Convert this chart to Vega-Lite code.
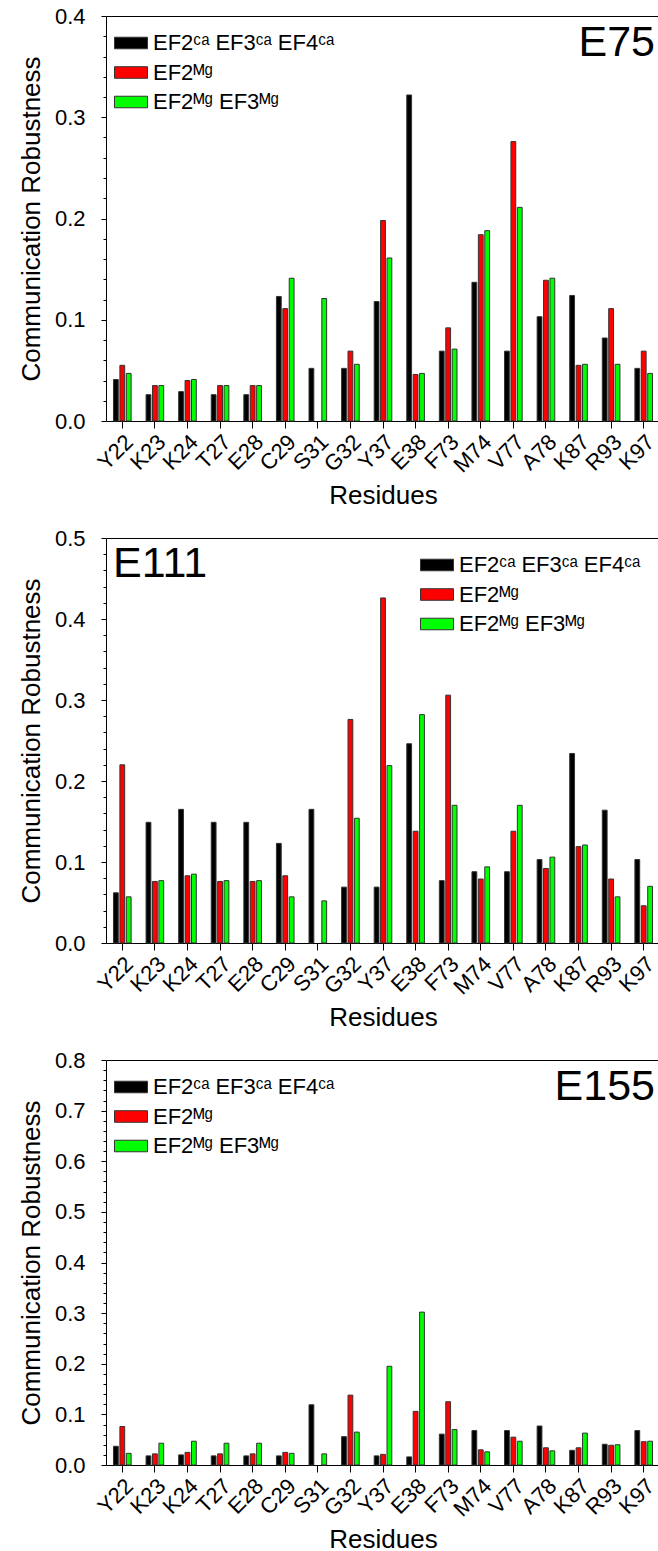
{
  "$schema": "https://vega.github.io/schema/vega-lite/v6.json",
  "background": "white",
  "padding": {"left": 18, "top": 5, "right": 0, "bottom": 0},
  "spacing": 18,
  "config": {
    "font": "Liberation Sans",
    "view": {"stroke": null},
    "axis": {"labelFont": "Liberation Sans", "titleFont": "Liberation Sans", "labelColor": "#000", "titleColor": "#000", "domainColor": "#000", "tickColor": "#000", "labelFontSize": 22, "titleFontSize": 26, "titleFontWeight": "normal", "grid": false},
    "legend": {"labelFont": "Liberation Sans", "labelFontSize": 22, "labelColor": "#000", "symbolType": "M-1,-0.35H1V0.35H-1Z", "symbolSize": 1089, "symbolStrokeColor": "#333", "symbolStrokeWidth": 1, "symbolOpacity": 1, "labelOffset": 5, "rowPadding": 1.5, "padding": 0, "labelLimit": 400, "title": null},
    "title": {"font": "Liberation Sans", "fontSize": 43, "fontWeight": "normal", "color": "#000", "frame": "group", "baseline": "alphabetic"}
  },
  "resolve": {"scale": {"y": "independent", "color": "independent", "x": "independent"}, "legend": {"color": "independent"}},
  "datasets": {
    "d": [
      {"p":"E75","r":"Y22","s":"a","v":0.041},{"p":"E75","r":"Y22","s":"b","v":0.055},{"p":"E75","r":"Y22","s":"c","v":0.047},
      {"p":"E75","r":"K23","s":"a","v":0.026},{"p":"E75","r":"K23","s":"b","v":0.035},{"p":"E75","r":"K23","s":"c","v":0.035},
      {"p":"E75","r":"K24","s":"a","v":0.029},{"p":"E75","r":"K24","s":"b","v":0.040},{"p":"E75","r":"K24","s":"c","v":0.041},
      {"p":"E75","r":"T27","s":"a","v":0.026},{"p":"E75","r":"T27","s":"b","v":0.035},{"p":"E75","r":"T27","s":"c","v":0.035},
      {"p":"E75","r":"E28","s":"a","v":0.026},{"p":"E75","r":"E28","s":"b","v":0.035},{"p":"E75","r":"E28","s":"c","v":0.035},
      {"p":"E75","r":"C29","s":"a","v":0.123},{"p":"E75","r":"C29","s":"b","v":0.111},{"p":"E75","r":"C29","s":"c","v":0.141},
      {"p":"E75","r":"S31","s":"a","v":0.052},{"p":"E75","r":"S31","s":"c","v":0.121},
      {"p":"E75","r":"G32","s":"a","v":0.052},{"p":"E75","r":"G32","s":"b","v":0.069},{"p":"E75","r":"G32","s":"c","v":0.056},
      {"p":"E75","r":"Y37","s":"a","v":0.118},{"p":"E75","r":"Y37","s":"b","v":0.198},{"p":"E75","r":"Y37","s":"c","v":0.161},
      {"p":"E75","r":"E38","s":"a","v":0.322},{"p":"E75","r":"E38","s":"b","v":0.046},{"p":"E75","r":"E38","s":"c","v":0.047},
      {"p":"E75","r":"F73","s":"a","v":0.069},{"p":"E75","r":"F73","s":"b","v":0.092},{"p":"E75","r":"F73","s":"c","v":0.071},
      {"p":"E75","r":"M74","s":"a","v":0.137},{"p":"E75","r":"M74","s":"b","v":0.184},{"p":"E75","r":"M74","s":"c","v":0.188},
      {"p":"E75","r":"V77","s":"a","v":0.069},{"p":"E75","r":"V77","s":"b","v":0.276},{"p":"E75","r":"V77","s":"c","v":0.211},
      {"p":"E75","r":"A78","s":"a","v":0.103},{"p":"E75","r":"A78","s":"b","v":0.139},{"p":"E75","r":"A78","s":"c","v":0.141},
      {"p":"E75","r":"K87","s":"a","v":0.124},{"p":"E75","r":"K87","s":"b","v":0.055},{"p":"E75","r":"K87","s":"c","v":0.056},
      {"p":"E75","r":"R93","s":"a","v":0.082},{"p":"E75","r":"R93","s":"b","v":0.111},{"p":"E75","r":"R93","s":"c","v":0.056},
      {"p":"E75","r":"K97","s":"a","v":0.052},{"p":"E75","r":"K97","s":"b","v":0.069},{"p":"E75","r":"K97","s":"c","v":0.047},

      {"p":"E111","r":"Y22","s":"a","v":0.062},{"p":"E111","r":"Y22","s":"b","v":0.220},{"p":"E111","r":"Y22","s":"c","v":0.057},
      {"p":"E111","r":"K23","s":"a","v":0.149},{"p":"E111","r":"K23","s":"b","v":0.076},{"p":"E111","r":"K23","s":"c","v":0.077},
      {"p":"E111","r":"K24","s":"a","v":0.165},{"p":"E111","r":"K24","s":"b","v":0.083},{"p":"E111","r":"K24","s":"c","v":0.085},
      {"p":"E111","r":"T27","s":"a","v":0.149},{"p":"E111","r":"T27","s":"b","v":0.076},{"p":"E111","r":"T27","s":"c","v":0.077},
      {"p":"E111","r":"E28","s":"a","v":0.149},{"p":"E111","r":"E28","s":"b","v":0.076},{"p":"E111","r":"E28","s":"c","v":0.077},
      {"p":"E111","r":"C29","s":"a","v":0.123},{"p":"E111","r":"C29","s":"b","v":0.083},{"p":"E111","r":"C29","s":"c","v":0.057},
      {"p":"E111","r":"S31","s":"a","v":0.165},{"p":"E111","r":"S31","s":"c","v":0.052},
      {"p":"E111","r":"G32","s":"a","v":0.069},{"p":"E111","r":"G32","s":"b","v":0.276},{"p":"E111","r":"G32","s":"c","v":0.154},
      {"p":"E111","r":"Y37","s":"a","v":0.069},{"p":"E111","r":"Y37","s":"b","v":0.426},{"p":"E111","r":"Y37","s":"c","v":0.219},
      {"p":"E111","r":"E38","s":"a","v":0.246},{"p":"E111","r":"E38","s":"b","v":0.138},{"p":"E111","r":"E38","s":"c","v":0.282},
      {"p":"E111","r":"F73","s":"a","v":0.077},{"p":"E111","r":"F73","s":"b","v":0.306},{"p":"E111","r":"F73","s":"c","v":0.170},
      {"p":"E111","r":"M74","s":"a","v":0.088},{"p":"E111","r":"M74","s":"b","v":0.079},{"p":"E111","r":"M74","s":"c","v":0.094},
      {"p":"E111","r":"V77","s":"a","v":0.088},{"p":"E111","r":"V77","s":"b","v":0.138},{"p":"E111","r":"V77","s":"c","v":0.170},
      {"p":"E111","r":"A78","s":"a","v":0.103},{"p":"E111","r":"A78","s":"b","v":0.092},{"p":"E111","r":"A78","s":"c","v":0.106},
      {"p":"E111","r":"K87","s":"a","v":0.234},{"p":"E111","r":"K87","s":"b","v":0.119},{"p":"E111","r":"K87","s":"c","v":0.121},
      {"p":"E111","r":"R93","s":"a","v":0.164},{"p":"E111","r":"R93","s":"b","v":0.079},{"p":"E111","r":"R93","s":"c","v":0.057},
      {"p":"E111","r":"K97","s":"a","v":0.103},{"p":"E111","r":"K97","s":"b","v":0.046},{"p":"E111","r":"K97","s":"c","v":0.070},

      {"p":"E155","r":"Y22","s":"a","v":0.037},{"p":"E155","r":"Y22","s":"b","v":0.076},{"p":"E155","r":"Y22","s":"c","v":0.023},
      {"p":"E155","r":"K23","s":"a","v":0.018},{"p":"E155","r":"K23","s":"b","v":0.022},{"p":"E155","r":"K23","s":"c","v":0.043},
      {"p":"E155","r":"K24","s":"a","v":0.020},{"p":"E155","r":"K24","s":"b","v":0.025},{"p":"E155","r":"K24","s":"c","v":0.047},
      {"p":"E155","r":"T27","s":"a","v":0.018},{"p":"E155","r":"T27","s":"b","v":0.022},{"p":"E155","r":"T27","s":"c","v":0.043},
      {"p":"E155","r":"E28","s":"a","v":0.018},{"p":"E155","r":"E28","s":"b","v":0.022},{"p":"E155","r":"E28","s":"c","v":0.043},
      {"p":"E155","r":"C29","s":"a","v":0.018},{"p":"E155","r":"C29","s":"b","v":0.025},{"p":"E155","r":"C29","s":"c","v":0.023},
      {"p":"E155","r":"S31","s":"a","v":0.119},{"p":"E155","r":"S31","s":"c","v":0.022},
      {"p":"E155","r":"G32","s":"a","v":0.056},{"p":"E155","r":"G32","s":"b","v":0.138},{"p":"E155","r":"G32","s":"c","v":0.065},
      {"p":"E155","r":"Y37","s":"a","v":0.018},{"p":"E155","r":"Y37","s":"b","v":0.021},{"p":"E155","r":"Y37","s":"c","v":0.195},
      {"p":"E155","r":"E38","s":"a","v":0.016},{"p":"E155","r":"E38","s":"b","v":0.106},{"p":"E155","r":"E38","s":"c","v":0.302},
      {"p":"E155","r":"F73","s":"a","v":0.061},{"p":"E155","r":"F73","s":"b","v":0.125},{"p":"E155","r":"F73","s":"c","v":0.070},
      {"p":"E155","r":"M74","s":"a","v":0.068},{"p":"E155","r":"M74","s":"b","v":0.030},{"p":"E155","r":"M74","s":"c","v":0.026},
      {"p":"E155","r":"V77","s":"a","v":0.068},{"p":"E155","r":"V77","s":"b","v":0.055},{"p":"E155","r":"V77","s":"c","v":0.047},
      {"p":"E155","r":"A78","s":"a","v":0.077},{"p":"E155","r":"A78","s":"b","v":0.034},{"p":"E155","r":"A78","s":"c","v":0.028},
      {"p":"E155","r":"K87","s":"a","v":0.029},{"p":"E155","r":"K87","s":"b","v":0.034},{"p":"E155","r":"K87","s":"c","v":0.063},
      {"p":"E155","r":"R93","s":"a","v":0.041},{"p":"E155","r":"R93","s":"b","v":0.039},{"p":"E155","r":"R93","s":"c","v":0.040},
      {"p":"E155","r":"K97","s":"a","v":0.068},{"p":"E155","r":"K97","s":"b","v":0.046},{"p":"E155","r":"K97","s":"c","v":0.047}
    ]
  },
  "vconcat": [
    {
      "width": 554, "height": 405,
      "data": {"name": "d"},
      "transform": [{"filter": "datum.p == 'E75'"}],
      "title": {"text": "E75", "anchor": "end", "offset": -60, "dx": -5},
      "layer": [
        {
          "mark": {"type": "bar", "stroke": "#333", "strokeWidth": 1},
          "encoding": {
            "x": {"field": "r", "type": "nominal", "sort": ["Y22","K23","K24","T27","E28","C29","S31","G32","Y37","E38","F73","M74","V77","A78","K87","R93","K97"], "scale": {"paddingInner": 0.41, "paddingOuter": 0.205}, "axis": {"title": "Residues", "labelAngle": -45, "tickSize": 7, "labelPadding": 3, "titlePadding": 6}},
            "xOffset": {"field": "s", "type": "nominal", "sort": ["a","b","c"], "scale": {"paddingInner": 0.25, "paddingOuter": 0.125}},
            "y": {"field": "v", "type": "quantitative", "scale": {"domain": [0, 0.4], "nice": false}, "axis": {"title": "Communication Robustness", "values": [0,0.02,0.04,0.06,0.08,0.1,0.12,0.14,0.16,0.18,0.2,0.22,0.24,0.26,0.28,0.3,0.32,0.34,0.36,0.38,0.4], "labelExpr": "abs(datum.value*10-round(datum.value*10))<1e-6 ? format(datum.value,'.1f') : ''", "tickSize": {"condition": {"test": "abs(datum.value*10-round(datum.value*10))<1e-6", "value": 5}, "value": 3}, "labelPadding": 16, "titlePadding": 10}},
            "color": {"field": "s", "type": "nominal", "scale": {"domain": ["a","b","c"], "range": ["#000000","#ff0000","#00ff00"]}, "legend": {"orient": "none", "legendX": 8, "legendY": 10, "labelExpr": "datum.label == 'a' ? 'EF2ᶜᵃ EF3ᶜᵃ EF4ᶜᵃ' : datum.label == 'b' ? 'EF2ᴹᵍ' : 'EF2ᴹᵍ EF3ᴹᵍ'"}}
          }
        },
        {
          "mark": {"type": "tick", "opacity": 0},
          "encoding": {"x": {"field": "r", "type": "nominal", "sort": ["Y22","K23","K24","T27","E28","C29","S31","G32","Y37","E38","F73","M74","V77","A78","K87","R93","K97"], "axis": {"orient": "top", "labels": false, "ticks": false, "title": null, "domain": true}}}
        }
      ],
      "resolve": {"axis": {"x": "independent"}}
    },
    {
      "width": 554, "height": 405,
      "data": {"name": "d"},
      "transform": [{"filter": "datum.p == 'E111'"}],
      "title": {"text": "E111", "anchor": "start", "offset": -59, "dx": 7},
      "layer": [
        {
          "mark": {"type": "bar", "stroke": "#333", "strokeWidth": 1},
          "encoding": {
            "x": {"field": "r", "type": "nominal", "sort": ["Y22","K23","K24","T27","E28","C29","S31","G32","Y37","E38","F73","M74","V77","A78","K87","R93","K97"], "scale": {"paddingInner": 0.41, "paddingOuter": 0.205}, "axis": {"title": "Residues", "labelAngle": -45, "tickSize": 7, "labelPadding": 3, "titlePadding": 6}},
            "xOffset": {"field": "s", "type": "nominal", "sort": ["a","b","c"], "scale": {"paddingInner": 0.25, "paddingOuter": 0.125}},
            "y": {"field": "v", "type": "quantitative", "scale": {"domain": [0, 0.5], "nice": false}, "axis": {"title": "Communication Robustness", "values": [0,0.02,0.04,0.06,0.08,0.1,0.12,0.14,0.16,0.18,0.2,0.22,0.24,0.26,0.28,0.3,0.32,0.34,0.36,0.38,0.4,0.42,0.44,0.46,0.48,0.5], "labelExpr": "abs(datum.value*10-round(datum.value*10))<1e-6 ? format(datum.value,'.1f') : ''", "tickSize": {"condition": {"test": "abs(datum.value*10-round(datum.value*10))<1e-6", "value": 5}, "value": 3}, "labelPadding": 16, "titlePadding": 10}},
            "color": {"field": "s", "type": "nominal", "scale": {"domain": ["a","b","c"], "range": ["#000000","#ff0000","#00ff00"]}, "legend": {"orient": "none", "legendX": 314, "legendY": 10, "labelExpr": "datum.label == 'a' ? 'EF2ᶜᵃ EF3ᶜᵃ EF4ᶜᵃ' : datum.label == 'b' ? 'EF2ᴹᵍ' : 'EF2ᴹᵍ EF3ᴹᵍ'"}}
          }
        },
        {
          "mark": {"type": "tick", "opacity": 0},
          "encoding": {"x": {"field": "r", "type": "nominal", "sort": ["Y22","K23","K24","T27","E28","C29","S31","G32","Y37","E38","F73","M74","V77","A78","K87","R93","K97"], "axis": {"orient": "top", "labels": false, "ticks": false, "title": null, "domain": true}}}
        }
      ],
      "resolve": {"axis": {"x": "independent"}}
    },
    {
      "width": 554, "height": 405,
      "data": {"name": "d"},
      "transform": [{"filter": "datum.p == 'E155'"}],
      "title": {"text": "E155", "anchor": "end", "offset": -60, "dx": -5},
      "layer": [
        {
          "mark": {"type": "bar", "stroke": "#333", "strokeWidth": 1},
          "encoding": {
            "x": {"field": "r", "type": "nominal", "sort": ["Y22","K23","K24","T27","E28","C29","S31","G32","Y37","E38","F73","M74","V77","A78","K87","R93","K97"], "scale": {"paddingInner": 0.41, "paddingOuter": 0.205}, "axis": {"title": "Residues", "labelAngle": -45, "tickSize": 7, "labelPadding": 3, "titlePadding": 6}},
            "xOffset": {"field": "s", "type": "nominal", "sort": ["a","b","c"], "scale": {"paddingInner": 0.25, "paddingOuter": 0.125}},
            "y": {"field": "v", "type": "quantitative", "scale": {"domain": [0, 0.8], "nice": false}, "axis": {"title": "Communication Robustness", "values": [0,0.02,0.04,0.06,0.08,0.1,0.12,0.14,0.16,0.18,0.2,0.22,0.24,0.26,0.28,0.3,0.32,0.34,0.36,0.38,0.4,0.42,0.44,0.46,0.48,0.5,0.52,0.54,0.56,0.58,0.6,0.62,0.64,0.66,0.68,0.7,0.72,0.74,0.76,0.78,0.8], "labelExpr": "abs(datum.value*10-round(datum.value*10))<1e-6 ? format(datum.value,'.1f') : ''", "tickSize": {"condition": {"test": "abs(datum.value*10-round(datum.value*10))<1e-6", "value": 5}, "value": 3}, "labelPadding": 16, "titlePadding": 10}},
            "color": {"field": "s", "type": "nominal", "scale": {"domain": ["a","b","c"], "range": ["#000000","#ff0000","#00ff00"]}, "legend": {"orient": "none", "legendX": 8, "legendY": 10, "labelExpr": "datum.label == 'a' ? 'EF2ᶜᵃ EF3ᶜᵃ EF4ᶜᵃ' : datum.label == 'b' ? 'EF2ᴹᵍ' : 'EF2ᴹᵍ EF3ᴹᵍ'"}}
          }
        },
        {
          "mark": {"type": "tick", "opacity": 0},
          "encoding": {"x": {"field": "r", "type": "nominal", "sort": ["Y22","K23","K24","T27","E28","C29","S31","G32","Y37","E38","F73","M74","V77","A78","K87","R93","K97"], "axis": {"orient": "top", "labels": false, "ticks": false, "title": null, "domain": true}}}
        }
      ],
      "resolve": {"axis": {"x": "independent"}}
    }
  ]
}
